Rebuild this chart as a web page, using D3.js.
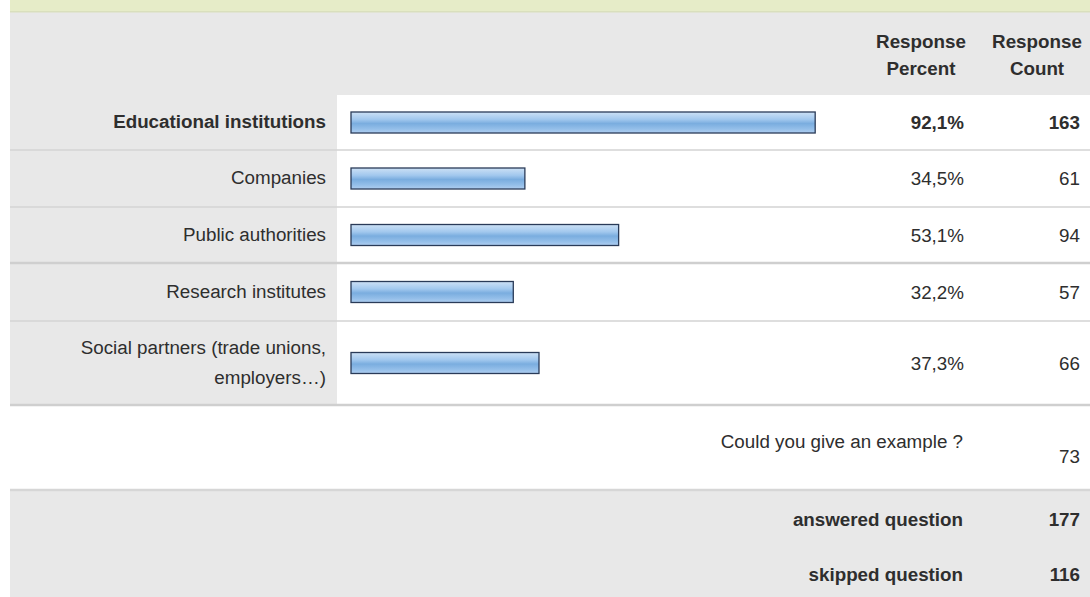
<!DOCTYPE html>
<html>
<head>
<meta charset="utf-8">
<script src="https://cdn.jsdelivr.net/npm/d3@7/dist/d3.min.js"></script>
<style>
  html, body { margin: 0; padding: 0; background: #fff; }
  svg { display: block; font-family: "Liberation Sans", Arial, sans-serif; }
</style>
</head>
<body>
<svg id="chart" width="1090" height="597"></svg>
<script>
// Survey answers
const categories = [
  ["Educational institutions"],
  ["Companies"],
  ["Public authorities"],
  ["Research institutes"],
  ["Social partners (trade unions,", "employers…)"]
];
const percents = [92.1, 34.5, 53.1, 32.2, 37.3];
const counts = [163, 61, 94, 57, 66];
const highlighted = [true, false, false, false, false];
const exampleLabel = "Could you give an example ?";
const exampleCount = 73;
const summaryLabels = ["answered question", "skipped question"];
const summaryCounts = [177, 116];
const headerLines = [["Response", "Percent"], ["Response", "Count"]];

const svg = d3.select("#chart");
const W = 1090, H = 597;
const left = 10;
const labelColRight = 337;
const labelRight = 326;
const barX0 = 351;
const pctRight = 964;
const cntRight = 1080;
const fs = 18.8;
const textColor = "#2e2e2e";

// Row boundaries (top of each category row, then end of last row)
const rowEdges = [95, 150, 207, 263, 321, 405];
const x = d3.scaleLinear().domain([0, 100]).range([barX0, barX0 + 504]);

const defs = svg.append("defs");
const grad = defs.append("linearGradient").attr("id", "barGrad")
  .attr("x1", 0).attr("y1", 0).attr("x2", 0).attr("y2", 1);
[[0, "#cde1f5"], [0.35, "#a2c8ee"], [0.55, "#7aaddf"], [0.8, "#93bee9"], [1, "#afcef0"]]
  .forEach(([o, c]) => grad.append("stop").attr("offset", o).attr("stop-color", c));

// Background bands
svg.append("rect").attr("x", left).attr("y", 0).attr("width", W - left).attr("height", 12).attr("fill", "#e6ecc8");
svg.append("rect").attr("x", left).attr("y", 12).attr("width", W - left).attr("height", 83).attr("fill", "#e8e8e8");
svg.append("rect").attr("x", left).attr("y", 11).attr("width", W - left).attr("height", 1.5).attr("fill", "#d9dfbd");

function label(sel, px, py, t, opts = {}) {
  return sel.append("text").attr("x", px).attr("y", py)
    .attr("text-anchor", opts.anchor || "end").attr("dominant-baseline", "middle")
    .attr("font-size", fs).attr("font-weight", opts.bold ? "bold" : "normal")
    .attr("fill", textColor).text(t);
}

// Header text
const headerX = [921, 1037];
headerLines.forEach((lines, i) => {
  lines.forEach((t, j) => label(svg, headerX[i], 43 + j * 27, t, { anchor: "middle", bold: true }));
});

// Category rows
const rows = svg.append("g").selectAll("g").data(categories).join("g");
rows.append("rect").attr("x", left).attr("y", (d, i) => rowEdges[i])
  .attr("width", labelColRight - left).attr("height", (d, i) => rowEdges[i + 1] - rowEdges[i])
  .attr("fill", "#e8e8e8");
rows.append("rect").attr("x", labelColRight).attr("y", (d, i) => rowEdges[i])
  .attr("width", W - labelColRight).attr("height", (d, i) => rowEdges[i + 1] - rowEdges[i])
  .attr("fill", "#fff");

const mid = i => (rowEdges[i] + rowEdges[i + 1]) / 2;

rows.each(function (lines, i) {
  const g = d3.select(this);
  const bold = highlighted[i];
  lines.forEach((t, j) => label(g, labelRight, mid(i) + 1 + (j - (lines.length - 1) / 2) * 30, t, { bold }));
  g.append("rect").attr("x", x(0)).attr("y", mid(i) - 10.5)
    .attr("width", x(percents[i]) - x(0)).attr("height", 21)
    .attr("fill", "url(#barGrad)").attr("stroke", "#2a3b58").attr("stroke-width", 1.3);
  label(g, pctRight, mid(i) + 2, percents[i].toFixed(1).replace(".", ",") + "%", { bold });
  label(g, cntRight, mid(i) + 2, counts[i], { bold });
});

// Example row
svg.append("rect").attr("x", left).attr("y", 405).attr("width", W - left).attr("height", 85).attr("fill", "#fff");
label(svg, 963, 443, exampleLabel);
label(svg, cntRight, 458, exampleCount);

// Summary rows
svg.append("rect").attr("x", left).attr("y", 490).attr("width", W - left).attr("height", H - 490).attr("fill", "#e8e8e8");
summaryLabels.forEach((t, i) => {
  const yy = 521 + i * 55;
  label(svg, 963, yy, t, { bold: true });
  label(svg, cntRight, yy, summaryCounts[i], { bold: true });
});

// Row separators
const seps = [[150, 1.5, "#d4d4d4"], [207, 1.5, "#d4d4d4"], [263, 2.5, "#cfcfcf"], [321, 1.5, "#d4d4d4"], [405, 2.5, "#cfcfcf"], [490, 2.5, "#d6d6d6"]];
seps.forEach(([yy, w, c]) => {
  svg.append("rect").attr("x", left).attr("y", yy - w / 2).attr("width", W - left).attr("height", w).attr("fill", c);
});
</script>
</body>
</html>
